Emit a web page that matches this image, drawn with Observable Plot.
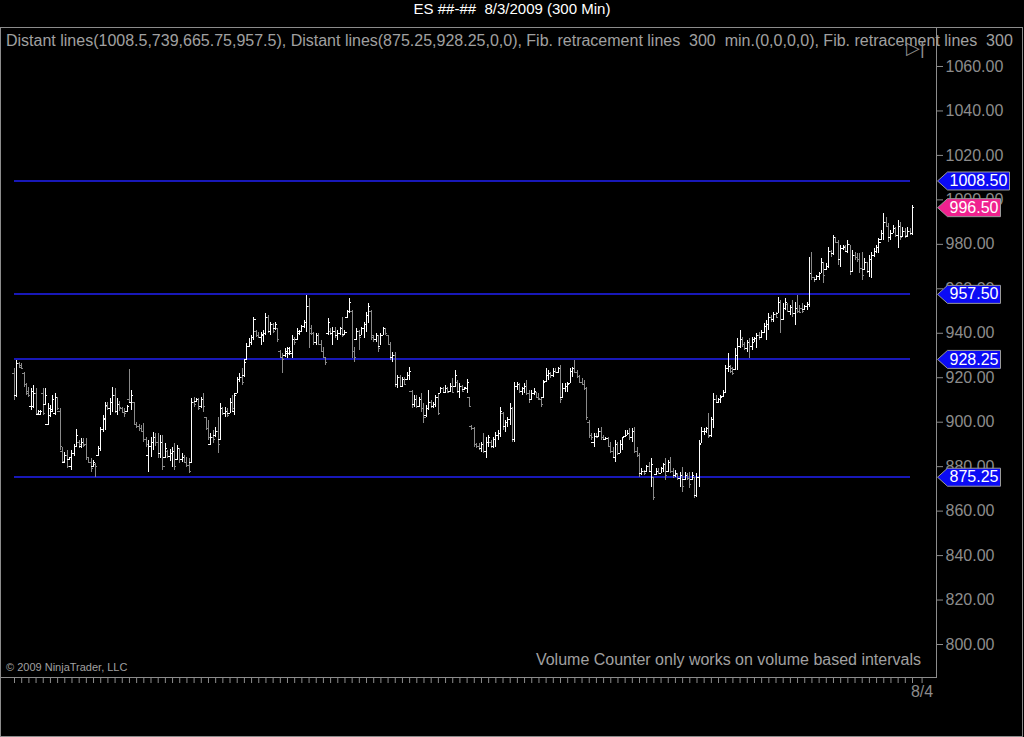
<!DOCTYPE html>
<html>
<head>
<meta charset="utf-8">
<script src="https://cdn.jsdelivr.net/npm/d3@7"></script>
<script src="https://cdn.jsdelivr.net/npm/@observablehq/plot@0.6"></script>
<style>
  html, body { margin: 0; padding: 0; background: #000; width: 1024px; height: 737px; overflow: hidden; }
  #title { position: absolute; left: 0; top: 0; width: 1024px; height: 27px; line-height: 27px; text-align: center; color: #fff; font: 15px "Liberation Sans", Arial, sans-serif; white-space: pre; }
  #chart { position: absolute; left: 0; top: 27px; }
  #border { position: absolute; left: 0; top: 27px; width: 1023px; height: 710px; box-sizing: border-box; border: 1px solid #8c8c8c; pointer-events: none; }
  .txt { position: absolute; color: #a0a0a0; font-family: "Liberation Sans", Arial, sans-serif; white-space: pre; }
  #header { left: 6px; top: 31px; width: 1016px; overflow: hidden; font-size: 16px; line-height: 20px; }
  #copy { left: 6px; top: 661px; font-size: 11px; }
  #vol { right: 103px; top: 650px; font-size: 16px; line-height: 20px; }
  #play { left: 906px; top: 37px; font-size: 18px; color: #8c8c8c; }
  svg line, svg rect { shape-rendering: crispEdges; }
</style>
</head>
<body>
<div id="title">ES ##-##  8/3/2009 (300 Min)</div>
<div id="chart"></div>
<div id="border"></div>
<div class="txt" id="header">Distant lines(1008.5,739,665.75,957.5), Distant lines(875.25,928.25,0,0), Fib. retracement lines  300  min.(0,0,0,0), Fib. retracement lines  300  min.(0,0,0,0)</div>
<div class="txt" id="play">▷|</div>
<div class="txt" id="copy">© 2009 NinjaTrader, LLC</div>
<div class="txt" id="vol">Volume Counter only works on volume based intervals</div>
<script>
const highs = [
924,927.75,927,926.25,922.5,917.25,915.75,915,916.5,915,905.25,905.25,915,915,908.25,907.5,912,912.75,911.25,906,
888.75,886.5,887.25,884.25,887.25,890,896.5,891.75,892.5,892.5,892.5,884.25,883.5,882.75,881.25,889,897.5,903,909,909,910.5,915.75,915,910.5,909.25,906.75,906,907.5,923.5,914.25,909,900,899,898.5,899.25,893.25,891.75,893.25,895.5,895,894.75,894,894,890.25,887.25,887.5,888.75,890.25,889.5,888,885.75,885,884,883.5,910.5,911.25,910.5,
910.5,911.25,912.75,902.25,900.75,894.75,896.25,897.75,902.25,908.25,906.75,906.75,906,910.5,912,912.75,920.25,921.75,924,927.75,935.25,937.5,939,947.25,941.25,940.5,940.5,941.25,948.75,948,945,944.25,945,942,932.25,930.75,933,933.75,933.75,939,938.25,942,941.25,943.5,945.75,957,955.5,943.5,940.5,939.75,939.75,936.75,933.75,929.25,946.5,942,942.75,942.75,941.25,942.75,947.25,941.25,950.25,955.5,950.25,933.75,942,941.25,942.75,945,949.5,953.25,950.25,939,939.75,939,939.75,942.75,942,939,936,931.5,931.5,
921,921,920.25,920.25,922.5,924.75,914.25,912,912,911.25,912.75,908.25,907.5,914.25,909.75,909,912,912.75,915.75,915.75,916.5,915.75,917.25,919.5,923.25,918.75,917.25,916.5,915.75,919,911.25,898.5,897.75,890.25,890.25,891,894.75,893.25,894,891.75,893.25,895.5,896.25,906.75,904.5,900.75,902.25,908.25,906.75,918,918,917.25,915.75,917.25,918.75,914.25,914.25,915,913.5,912.75,911.25,918.75,924,923.25,922.5,924,924,924.75,925.5,917.25,917.25,918,924,924.75,927.75,923.25,921,919.5,918.75,915.75,
900.75,894.75,894.75,894.75,897,897.75,894,893.25,893.25,891,888.75,891.75,891,891.75,893.25,896.25,896.25,897,897,897.75,888.75,885.75,879,878.25,880.5,882,883.5,875.25,879,879,879.75,881.25,883.5,882.75,884.25,879,878.25,876.75,877.5,879.75,877.5,876.75,877.5,877.5,875.25,876.75,891.75,
897.75,897,897.75,903.75,902.25,912.75,912,910.5,912,914.25,925.5,930.75,925.5,924.75,933,937.5,941.25,938.25,936,936.75,937.5,938.25,938.25,939.75,940.5,941.25,944.25,945.75,948.75,948,949.5,949.5,956.25,954.75,953.25,955.5,953.25,952.5,954.75,954,957,952.5,953.25,952.5,954,974.25,976.5,965.25,966,967.5,973.5,972,971.25,978.75,977.25,984,983.25,981.75,979.5,979.5,979.5,981.75,979.5,977.25,976.5,975.75,975.75,976.5,973.5,972,975,976.5,978,979.5,982.5,986.25,993.75,992.25,989.25,986.25,988.5,987.75,990.75,990,987.75,987,987.75,987,997.5
];
const lows = [
909.75,911.25,924,924,915.75,912,911.25,905.25,906,903,903,903,903,907.5,898.5,902.25,904.5,903,905.25,887.25,
881.25,881.25,879,882.75,878.25,884.5,888.75,888,888,888.75,882.75,881.25,877.5,879.75,875.25,884.5,887,895.5,896.25,905.25,903,904.5,903.75,903,904.75,903.75,902.25,904.5,908.25,905.25,898.5,897,895.75,895.5,891,888.75,877.5,884.25,887.25,889.25,883.5,883.5,878.25,883.5,883.5,882.5,879.75,878.25,882.75,881.25,882,881.25,879.5,876.75,881.25,906.75,909,
905.25,906,904.5,896.25,891.75,889.5,890.25,893.25,885.75,891.75,903,902.25,902.25,903.75,904.5,903,912.75,918,916.5,920.25,927.75,933.75,934.5,936.75,938.25,937.5,934.5,936,939,939.75,939,939.75,941.25,936,928.5,922,929.25,928.5,930,928.5,934.5,936.75,939,940.5,942,940.5,933,939,934.5,934.5,934.5,931.5,928.5,925.5,939,939,934.5,937.5,936.75,939,938.25,939,946.5,948.75,928.5,927,936.75,932.25,939,937.5,940.5,944.25,936.75,936,936,931.5,934.5,939,939,934.5,927.75,927,915.75,
915,915.75,915.75,916.5,918.75,918.75,906,906.75,906,906.75,904.5,899.25,902.25,905.25,906,906,906.75,903,912.75,912.75,912.75,912.75,913.5,912.75,915.75,912.75,910.5,913.5,914.25,912.75,906.75,896.25,888.75,888,887.25,886.5,885.75,883.5,888.75,888,888,888.75,891.75,893.25,896.25,895.5,897.75,898.5,891,891,914.25,912.75,912,912.75,912,908.25,909.75,912,910.5,909.75,906.75,910.5,918,918.75,919.5,920.25,921.75,921.75,908.25,910.5,913.5,913.5,917.25,920.25,921.75,919.5,917.25,916.5,914.25,900.75,
892.5,891.75,888.75,892.5,893.25,891.75,891.75,891.75,888.75,885.75,883.5,882,885,885.75,887.25,893.25,894,891.75,891,885.75,884.25,875.25,876,876,877.5,877.5,870.75,864.75,876,876.75,876.75,877.5,873.75,877.5,876.75,874.5,875.25,873.75,870.75,868.5,873.75,873.75,870,873.75,865.5,866.25,870.75,
890.25,894,894.75,892.5,893.25,897,908.25,908.25,908.25,911.25,912.75,922.5,921.75,921,923.25,923.25,933,933.75,932.25,931.5,928.5,932.25,936,933,936.75,937.5,939.75,936.75,941.25,945,945,946.5,948.75,939.75,945.75,950.25,949.5,948,947.25,943.5,948.75,948.75,948.75,950.25,950.25,951.75,963.75,963,963.75,963.75,966.75,962.25,968.25,969,974.25,975,980.25,970.5,969.75,977.25,976.5,975.75,966,967.5,972.75,972,966.75,963.75,968.25,966.75,965.25,964.5,974.25,975.75,975.75,981.75,981.75,987.75,981,981.75,984.75,983.25,978,981.75,983.25,982.5,983.25,984,984
];
const opens = [
922,912,926.5,925.5,922,917,914,907,907,913,903.5,903.25,913,908,899,903,905,904,911,905,
887,882,885,883,880,886,889,891,889,891,890,884,882,880,881,885,888,896.5,901,907,906,909,912,905,908,906,904.5,905,910,909,909,899,898,897,896,892,885,889,891,893,891,886,891,884,887,884.5,886,887,883,888,883,884,882,880.5,882,909,909.25,
910,907,910,902,897,890,893,894,896,892,906,904,905,904,909,905,913,919,920,921,928,934,936,938,941,939,938,939,940,947,941,944,942,942,932,929,930,931,931,931,937,937,940,941,943,945,952,942,940,936,939,935,932,929,940,941,940,941,939,940,942,939.5,947,950,950,932,937,941,939,942,944,948,950,938,937,939,934,939,942,939,935,929,930,
917,920,916,919,919,921,914,908,910,907,910,906,903,906,909,907,908,911,913,915,913.5,915,914,916,916,918,914,916,914.5,915,911,898,897,890,889,888,890,887,891,891,889,892,894,895,904,898,900,901,906,892,916,917,914,915,916,913,910,913,913.5,911,910,911,918.5,921,922,921,923,922.5,924,911,915,916,917.5,923,924,922.5,920.5,918,917,915,
900,894,891,893.5,893.5,896,893,892,892.5,889,887,884,890,886,890,893.5,894,895,893,896,887,885,877,878,878,880,878,875,876.5,878,877,879,881,878,882,878,876,876.5,874.5,876,874,876,874.5,874,875,867,875,
890.5,896,896,897,894,901,910,909,910,911.5,913.5,924,925,924,923.5,930,934,937,935,933,936,934,936,937.5,939,938,940.5,943,944,947,946,948.5,949,954,946,951,953,950,951.5,949,951,950,951,950.5,952,953,967,965,964,965.5,967,972,968.5,970,977,976,983,981,973,978,979,977,980,968,975,974,973,969,968.5,972,968,973,975,977,978.5,982,985,990,988,983,985,987,984,988,983.5,986,983.5,986,985
];
const closes = [
912,926.5,924.5,924.25,917,913,912,914,913,904,905,904.75,904,912,906,905.5,910,911,906,889,
882.5,885,880,884,886,889,894,890,891,889.5,884,882,879,882,880,888,896.5,901.5,907.5,906,909,912,905,908,906.5,904.5,904,907,909,912,899,898,897,896,892,890,889,891,893,891,886,891,880,888,884.5,886,887,880,888,883,884,882,880.5,878,909,908,910,
906,910,907,897,893,893,892,896,890,906,904,905,903,909,906,912,919,920,918,927,934,936,938,946,939,938,939.5,940,947,941,944,941,944,937,929,928,932,933,932,937,936,941,941,943,945,952,940,940,936,939,935,932,929,927,945,940,941,939,940,942,939,940.5,950,954,932,929,941,938,942,944,948,952,939,937,939,933,939,942,940,935,929,930,917,
920,916,919,917,921,923,908,910,907,910,906,902,906,909,907,908,911,904,915,913.5,915,913.5,916,913.5,921,914,916,914,915.5,918,907,897,890,889,888,890,887,891,893,889,892,894,895,905,898,900,901,906,892,916,917,914,915,916,913,910,913,914,911,910.5,908,918,921,922,921,923,922.5,924,910,915,916,917,923,924,922.5,920.5,918,917,915,902,
894,893,893.5,893,896,893,892,892.5,889,887,884,890,886,890,893,894,895,893,896,887,885,877,878,877,880,878,881,866,878,877,879,881,876,882,878,876,877,874.5,876,871,876,874.5,872,876,867,875,890,
896,896,897,893.5,901,910,909,910,911,913.5,924,925,923,922,930,934,937,935,933,936,934,937,937.5,939,938,940.5,943,944,947,946,948.5,947,954,946,951,954,950,951.5,949,951,950,949.5,950,952,953,967,965,964,965.5,967,972,966,970,977,976,983,981,973,978,978.5,977,980,968,975,974,973,969,966,972,968,973,975,977,978.5,981,985,990,988,983,985,987,984,988,983,986,984,986,985,996.5
];

// reference levels (Distant lines) and last price marker
const levels = [1008.5, 957.5, 928.25, 875.25];
const lastPrice = [996.5];
// right axis tick values
const yTicks = [800, 820, 840, 860, 880, 900, 920, 940, 960, 980, 1000, 1020, 1040, 1060];
// date label on the time axis
const dateLabel = "8/4";

const bars = highs.map((h, i) => ({i, high: h, low: lows[i], open: opens[i], close: closes[i]}));
const n = bars.length;
const isUp = d => d.close >= d.open;
const isDown = d => d.close < d.open;
const xTicks = d3.range(0, n, 3).concat([n + 3]);

const UP = "#ffffff", DOWN = "#8a8a8a";
const box = w => ({
  draw(ctx) {
    ctx.moveTo(1, 0);
    ctx.lineTo(11, -9);
    ctx.lineTo(w, -9);
    ctx.lineTo(w, 9);
    ctx.lineTo(11, 9);
    ctx.closePath();
  }
});

const ohlc = (filter, color) => [
  Plot.ruleX(bars, {filter, x: "i", y1: "low", y2: "high", stroke: color, strokeWidth: 1}),
  Plot.ruleY(bars, {filter, y: "open", x1: d => d.i - 0.85, x2: "i", stroke: color, strokeWidth: 1}),
  Plot.ruleY(bars, {filter, y: "close", x1: "i", x2: d => d.i + 0.85, stroke: color, strokeWidth: 1})
];

const chart = Plot.plot({
  width: 1024,
  height: 710,
  marginLeft: 0,
  marginRight: 88,
  marginTop: 0,
  marginBottom: 60,
  style: {background: "#000", color: "#8c8c8c", fontFamily: "'Liberation Sans', Arial, sans-serif", fontSize: "16px"},
  x: {domain: [-5.85, n - 1 + 10.02], axis: "bottom", ticks: xTicks, tickFormat: d => d === n + 3 ? dateLabel : "", tickSize: 6, tickPadding: 2, label: null},
  y: {domain: [785.16, 1077.54], axis: "right", ticks: yTicks, tickFormat: d => d.toFixed(2), tickSize: 6, tickPadding: 3, label: null},
  marks: [
    Plot.frame({stroke: "#8c8c8c"}),
    Plot.ruleY(levels, {y: d => d, x1: () => 0, x2: () => n - 2, stroke: "#1818b8", strokeWidth: 2}),
    ...ohlc(isDown, DOWN),
    ...ohlc(isUp, UP),
    Plot.dot(levels, {filter: d => d >= 1000, y: d => d, frameAnchor: "right", symbol: box(73), fill: "#0b0bf5", stroke: "#9a9a9a", strokeWidth: 1}),
    Plot.dot(levels, {filter: d => d < 1000, y: d => d, frameAnchor: "right", symbol: box(64), fill: "#0b0bf5", stroke: "#9a9a9a", strokeWidth: 1}),
    Plot.dot(lastPrice, {y: d => d, frameAnchor: "right", symbol: box(64), fill: "#f0218f", stroke: "#9a9a9a", strokeWidth: 1}),
    Plot.text(levels.concat(lastPrice), {y: d => d, frameAnchor: "right", text: d => d.toFixed(2), textAnchor: "start", dx: 13, fill: "#ffffff", fontSize: 16})
  ]
});
document.getElementById("chart").appendChild(chart);
</script>
</body>
</html>
